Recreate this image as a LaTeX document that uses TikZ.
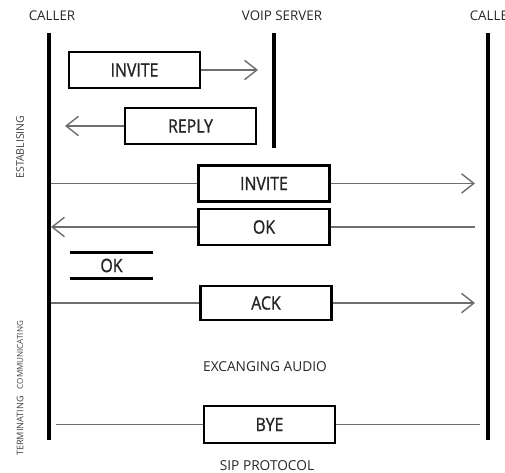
\documentclass[tikz,border=0pt]{standalone}
\usepackage{fontspec}
\setmainfont{Open Sans}
\newfontfamily\boxfont[FakeStretch=0.86,FakeBold=1.2]{Open Sans}
\usetikzlibrary{arrows.meta,positioning}
\definecolor{msggray}{RGB}{110,110,110}

\tikzset{
    lifeline/.style={line width=2.3pt,black},
    msgbox/.style={draw,line width=1.5pt,minimum width=2.62cm,minimum height=0.72cm,inner sep=0pt,font=\boxfont\fontsize{10.5}{12}\selectfont,text=black!85},
    msg/.style={draw=msggray,line width=0.8pt},
    msgarrow/.style={msg,-{Straight Barb[length=7pt,width=11pt,line width=0.8pt]}},
    actor/.style={font=\fontsize{7.6}{9}\selectfont,text=black!85},
    phase/.style={rotate=90,text=black!75},
    note/.style={font=\fontsize{7.8}{9}\selectfont,text=black!85}
}

\begin{document}
\begin{tikzpicture}[x=0.02cm,y=-0.02cm]
    \useasboundingbox (0,0) rectangle (505,473);
    % actors and lifelines
    \node[actor] (caller) at (52,16) {CALLER};
    \node[actor] (server) at (282,16) {VOIP SERVER};
    \node[actor] (callee) at (493,16) {CALLER};
    \coordinate (caTop) at (49,33);
    \coordinate (caBot) at (49,440);
    \coordinate (svTop) at (274,33);
    \coordinate (svBot) at (274,148);
    \coordinate (ceTop) at (488,33);
    \coordinate (ceBot) at (488,440);
    \draw[lifeline] (caTop) -- (caBot);
    \draw[lifeline] (svTop) -- (svBot);
    \draw[lifeline] (ceTop) -- (ceBot);
    % phases
    \node[phase,font=\fontsize{6}{7}\selectfont] (estab) at (20,147) {ESTABLISING};
    \node[phase,font=\fontsize{4.6}{6}\selectfont] (comm) at (20,355) {COMMUNICATING};
    \node[phase,font=\fontsize{5.2}{6}\selectfont] (term) at (20,426) {TERMINATING};
    % caller <-> server
    \node[msgbox] (invA) at (134.5,70) {INVITE};
    \coordinate (invAend) at (258,70);
    \draw[msgarrow] (invA.east) -- (invAend);
    \node[msgbox] (reply) at (190.5,126) {REPLY};
    \coordinate (replyEnd) at (65,126);
    \draw[msgarrow] (reply.west) -- (replyEnd);
    % caller <-> callee
    \node[msgbox] (invB) at (264,183.5) {INVITE};
    \coordinate (invBstart) at (51,183.5);
    \coordinate (invBend) at (475,183.5);
    \draw[msg] (invBstart) -- (invB.west);
    \draw[msgarrow] (invB.east) -- (invBend);
    \node[msgbox] (okA) at (264,227) {OK};
    \coordinate (okAstart) at (475,227);
    \coordinate (okAend) at (51,227);
    \draw[msg] (okAstart) -- (okA.east);
    \draw[msgarrow] (okA.west) -- (okAend);
    \node[font=\boxfont\fontsize{10.5}{12}\selectfont,text=black!85,minimum width=1.66cm,minimum height=0.5cm] (okB) at (111.5,265.5) {OK};
    \draw[line width=1.5pt] (okB.north west) -- (okB.north east);
    \draw[line width=1.5pt] (okB.south west) -- (okB.south east);
    \node[msgbox,minimum height=0.68cm] (ack) at (266,303) {ACK};
    \coordinate (ackStart) at (51,303);
    \coordinate (ackEnd) at (475,303);
    \draw[msg] (ackStart) -- (ack.west);
    \draw[msgarrow] (ack.east) -- (ackEnd);
    \node[note] (audio) at (265,367) {EXCANGING AUDIO};
    \node[msgbox,minimum height=0.74cm] (bye) at (269.5,424.5) {BYE};
    \coordinate (byeStart) at (56,424.5);
    \coordinate (byeEnd) at (480,424.5);
    \draw[msg] (byeStart) -- (bye.west);
    \draw[msg] (bye.east) -- (byeEnd);
    \node[note] (title) at (267,466) {SIP PROTOCOL};
\end{tikzpicture}
\end{document}
